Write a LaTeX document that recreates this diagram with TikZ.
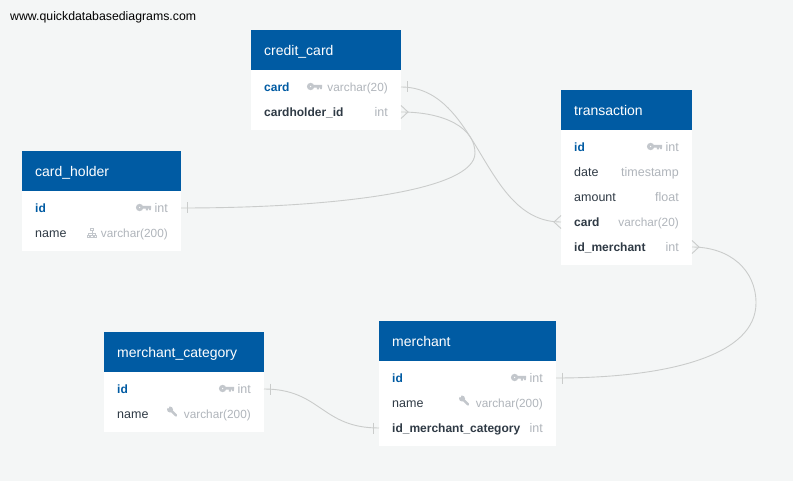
\documentclass[tikz,border=0pt]{standalone}
\usepackage{fontspec}
\setmainfont{Liberation Sans}
\definecolor{bgc}{HTML}{F4F6F6}
\definecolor{headc}{HTML}{005BA3}
\definecolor{darkc}{HTML}{2F3A45}
\definecolor{typec}{HTML}{B0B5BB}
\definecolor{iconc}{HTML}{C3C7CC}
\definecolor{linec}{HTML}{CACCCB}
\tikzset{
  x=1pt,y=-1pt,
  head/.style={fill=headc,draw=none,inner sep=0,outer sep=0,anchor=north west},
  tbody/.style={fill=white,draw=none,inner sep=0,outer sep=0,anchor=north west},
  title/.style={anchor=base west,inner sep=0,text=white,font=\fontsize{14}{16}\selectfont},
  pk/.style={anchor=base west,inner sep=0,text=headc,font=\fontsize{12}{14}\selectfont\bfseries},
  fld/.style={anchor=base west,inner sep=0,text=darkc,font=\fontsize{12.5}{14}\selectfont},
  fk/.style={anchor=base west,inner sep=0,text=darkc,font=\fontsize{12}{14}\selectfont\bfseries},
  typ/.style={anchor=base east,inner sep=0,text=typec,font=\fontsize{12.5}{14}\selectfont},
  vctyp/.style={anchor=base east,inner sep=0,text=typec,font=\fontsize{11.8}{14}\selectfont},
  rel/.style={draw=linec,line width=0.9pt},
}
\newcommand{\keyicon}[2]{%
  \fill[iconc,even odd rule] (#1-3.9,#2) circle[radius=3.7] (#1-3.9,#2) circle[radius=1.0];
  \fill[iconc] (#1-1,#2-1.7) rectangle (#1+7.5,#2+1.2) (#1+2.3,#2) rectangle (#1+4.3,#2+3) (#1+5.3,#2) rectangle (#1+7.3,#2+2.6);
}
\newcommand{\wrenchicon}[2]{%
  \fill[iconc] (#1-3,#2-3.5) circle[radius=3];
  \fill[white] (#1-4.9,#2-5.4) circle[radius=1];
  \draw[iconc,line width=2.5pt,line cap=round] (#1-2.5,#2-3) -- (#1+3,#2+2.4);
}
\newcommand{\treeicon}[2]{%
  \draw[iconc,line width=0.9pt] (#1-1.4,#2-5) rectangle (#1+1.4,#2-2.2)
   (#1-4.6,#2+2.4) rectangle (#1-2.2,#2+4.8)
   (#1-1.2,#2+2.4) rectangle (#1+1.2,#2+4.8)
   (#1+2.2,#2+2.4) rectangle (#1+4.6,#2+4.8);
  \draw[iconc,line width=0.6pt] (#1,#2-2.2) -- (#1,#2+2.4) (#1-3.4,#2+2.4) -- (#1-3.4,#2) -- (#1+3.4,#2) -- (#1+3.4,#2+2.4);
}
\newcommand{\onemark}[2]{\draw[linec,line width=0.9pt] (#1,#2-5.5) -- (#1,#2+5.5);}
\begin{document}
\begin{tikzpicture}
\useasboundingbox (0,0) rectangle (793,481);
\fill[bgc] (0,0) rectangle (793,481);
\node[anchor=base west,inner sep=0,font=\fontsize{12.3}{14}\selectfont] (wm) at (10,20.5) {www.quickdatabasediagrams.com};

% tables
\node[tbody,minimum width=150pt,minimum height=100pt] (ccb) at (251,30) {};
\node[head,minimum width=150pt,minimum height=40pt] (cch) at (251,30) {};
\node[title] (cct) at (264,55.5) {credit\_card};
\node[pk] (cc1) at (264,91.5) {card};
\node[vctyp] (cc1t) at (388,91.5) {varchar(20)};
\node[fk] (cc2) at (264,116.5) {cardholder\_id};
\node[typ] (cc2t) at (388,116.5) {int};
\keyicon{314.5}{86.5}

\node[tbody,minimum width=159pt,minimum height=100pt] (chb) at (22,151) {};
\node[head,minimum width=159pt,minimum height=40pt] (chh) at (22,151) {};
\node[title] (cht) at (35,176.5) {card\_holder};
\node[pk] (ch1) at (35,212.5) {id};
\node[typ] (ch1t) at (168,212.5) {int};
\node[fld] (ch2) at (35,237.5) {name};
\node[vctyp] (ch2t) at (168,237.5) {varchar(200)};
\keyicon{143.5}{207.5}
\treeicon{92}{233}

\node[tbody,minimum width=131pt,minimum height=175pt] (trb) at (561,90) {};
\node[head,minimum width=131pt,minimum height=40pt] (trh) at (561,90) {};
\node[title] (trt) at (574,115.5) {transaction};
\node[pk] (tr1) at (574,151.5) {id};
\node[typ] (tr1t) at (679,151.5) {int};
\node[fld] (tr2) at (574,176.5) {date};
\node[typ] (tr2t) at (679,176.5) {timestamp};
\node[fld] (tr3) at (574,201.5) {amount};
\node[typ] (tr3t) at (679,201.5) {float};
\node[fk] (tr4) at (574,226.5) {card};
\node[vctyp] (tr4t) at (679,226.5) {varchar(20)};
\node[fk] (tr5) at (574,251.5) {id\_merchant};
\node[typ] (tr5t) at (679,251.5) {int};
\keyicon{654.5}{146.5}

\node[tbody,minimum width=160pt,minimum height=100pt] (mcb) at (104,332) {};
\node[head,minimum width=160pt,minimum height=40pt] (mch) at (104,332) {};
\node[title] (mct) at (117,357.5) {merchant\_category};
\node[pk] (mc1) at (117,393.5) {id};
\node[typ] (mc1t) at (251,393.5) {int};
\node[fld] (mc2) at (117,418.5) {name};
\node[vctyp] (mc2t) at (251,418.5) {varchar(200)};
\keyicon{226.5}{388.5}
\wrenchicon{173}{413}

\node[tbody,minimum width=177pt,minimum height=125pt] (meb) at (379,321) {};
\node[head,minimum width=177pt,minimum height=40pt] (meh) at (379,321) {};
\node[title] (met) at (392,346.5) {merchant};
\node[pk] (me1) at (392,382.5) {id};
\node[typ] (me1t) at (543,382.5) {int};
\node[fld] (me2) at (392,407.5) {name};
\node[vctyp] (me2t) at (543,407.5) {varchar(200)};
\node[fk] (me3) at (392,432.5) {id\_merchant\_category};
\node[typ] (me3t) at (543,432.5) {int};
\keyicon{518.5}{377.5}
\wrenchicon{465}{402}

% connector ends
\coordinate (pcc1) at (401,87);
\coordinate (pcc2) at (401,112);
\coordinate (pch1) at (181,208);
\coordinate (ptr4) at (561,222);
\coordinate (ptr5) at (692,247);
\coordinate (pme1) at (556,378);
\coordinate (pmc1) at (264,389);
\coordinate (pme3) at (379,428);

\draw[rel] (pcc1) .. controls (480,87) and (482,222) .. (ptr4);
\draw[rel] (pcc2) .. controls (445,112) and (475,128) .. (475,153) .. controls (475,190) and (340,208) .. (pch1);
\draw[rel] (ptr5) .. controls (730,247) and (756,270) .. (756,303) .. controls (756,355) and (670,378) .. (pme1);
\draw[rel] (pmc1) .. controls (321,389) and (321,428) .. (pme3);

\onemark{407}{87}
\onemark{187}{208}
\onemark{562}{378}
\onemark{270}{389}
\onemark{373}{428}
\draw[rel] (401,105.5) -- (408,112) -- (401,118.5);
\draw[rel] (561,215.5) -- (554,222) -- (561,228.5);
\draw[rel] (692,240.5) -- (699,247) -- (692,253.5);
\end{tikzpicture}
\end{document}
